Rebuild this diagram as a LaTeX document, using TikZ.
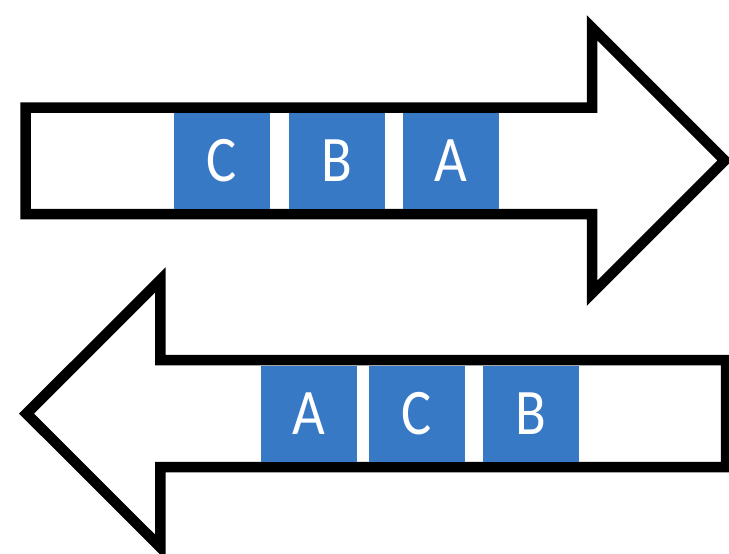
\documentclass[tikz,border=0pt]{standalone}
\usepackage{fontspec}
\setmainfont[FakeStretch=0.87]{Carlito}
\definecolor{boxblue}{RGB}{56,121,198}
\tikzset{
  bigarrow/.style={draw=black, fill=white, line width=10.5pt, line join=miter},
  letterbox/.style={fill=boxblue, text=white, minimum width=96pt, minimum height=96pt,
    inner sep=0pt, font=\fontsize{65}{65}\selectfont}
}
\begin{document}
\begin{tikzpicture}[x=1pt,y=-1pt]
\useasboundingbox (0,0) rectangle (729,554);
% top arrow (pointing right)
\draw[bigarrow] (25.5,107.5) -- (592,107.5) -- (592,27.8) -- (724.7,160.5) -- (592,293.2) -- (592,214) -- (25.5,214) -- cycle;
% bottom arrow (pointing left)
\draw[bigarrow] (726,360.2) -- (160.3,360.2) -- (160.3,280) -- (26.5,413.6) -- (160.3,547.2) -- (160.3,467) -- (726,467) -- cycle;
% top boxes
\node[letterbox] (tC) at (222,161) {C};
\node[letterbox] (tB) at (337,161) {B};
\node[letterbox] (tA) at (451,161) {A};
% bottom boxes
\node[letterbox] (bA) at (309,413.7) {A};
\node[letterbox] (bC) at (417,413.7) {C};
\node[letterbox] (bB) at (531,413.7) {B};
\end{tikzpicture}
\end{document}
